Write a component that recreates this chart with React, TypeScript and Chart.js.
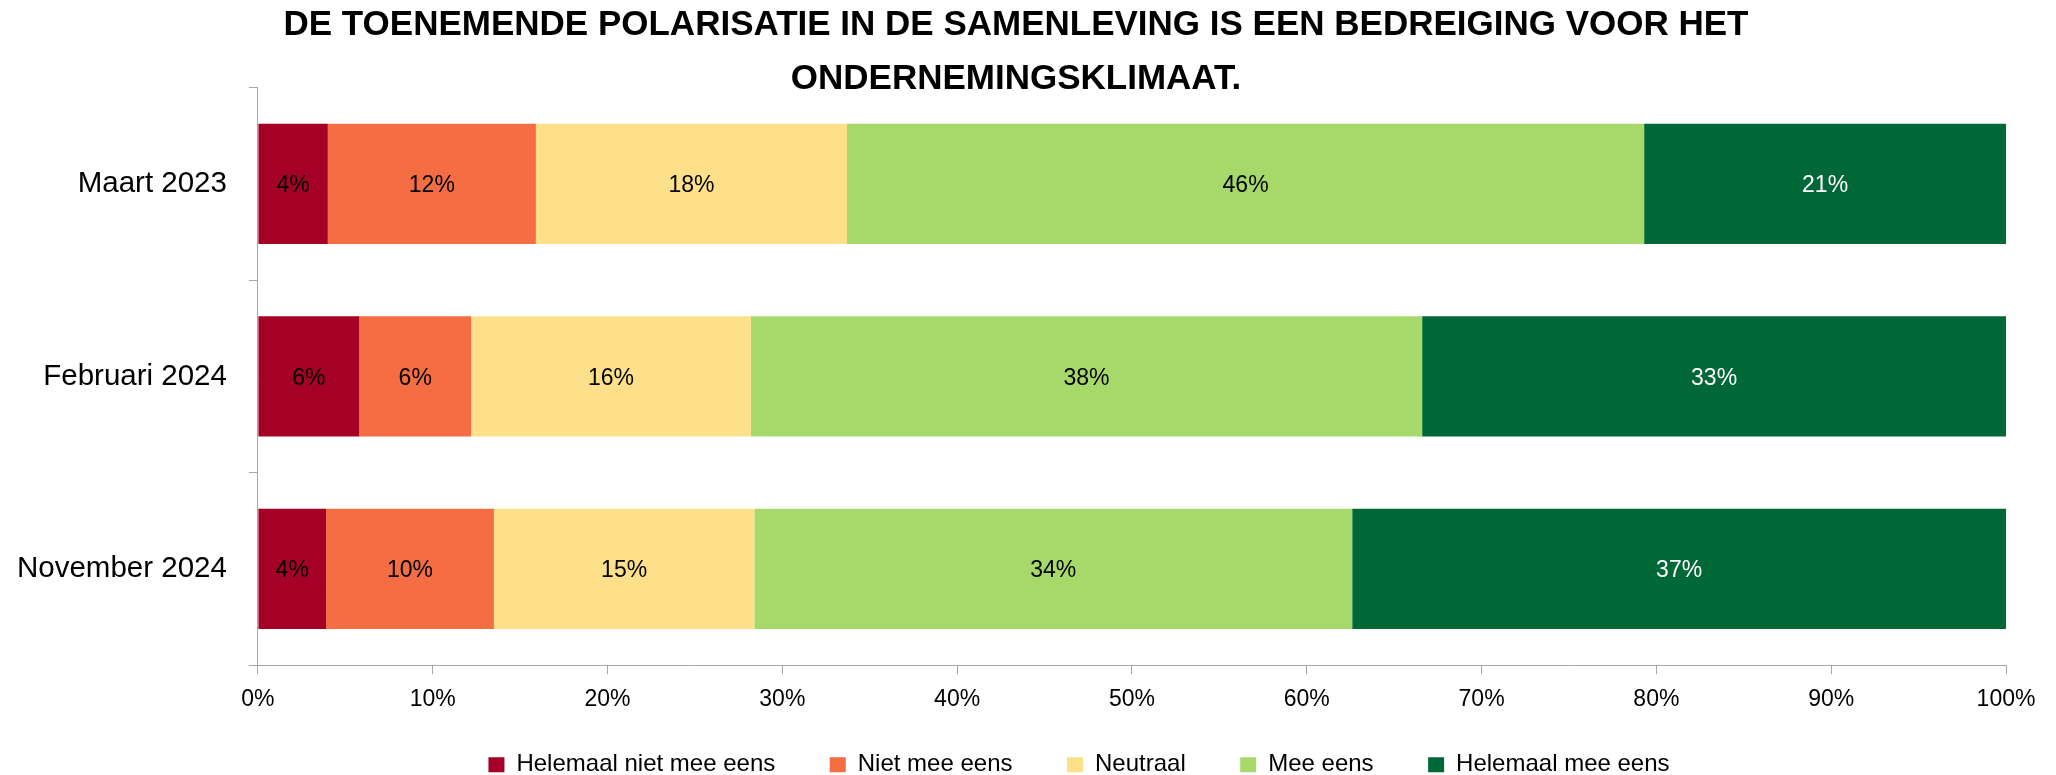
import React, { useEffect, useRef } from "react";
import { Chart, registerables } from "chart.js";

Chart.register(...registerables);

const titleLines = [
  "DE TOENEMENDE POLARISATIE IN DE SAMENLEVING IS EEN BEDREIGING VOOR HET",
  "ONDERNEMINGSKLIMAAT.",
];
const categories = ["Maart 2023", "Februari 2024", "November 2024"];
const seriesNames = ["Helemaal niet mee eens", "Niet mee eens", "Neutraal", "Mee eens", "Helemaal mee eens"];
const helemaalNiet = [4.0, 5.8, 3.9];
const nietMee = [11.9, 6.4, 9.6];
const neutraal = [17.8, 16.0, 14.9];
const meeEens = [45.6, 38.4, 34.2];
const helemaalMee = [20.7, 33.4, 37.4];
const colors = ["#A50026", "#F46D43", "#FEE08B", "#A6D96A", "#006837"];
const labelColors = ["#000000", "#000000", "#000000", "#000000", "#FFFFFF"];
const xTicks = [0, 10, 20, 30, 40, 50, 60, 70, 80, 90, 100];

const FONT = "'Liberation Sans', Arial, sans-serif";
const AXIS = "#A6A6A6";

const valueLabels = {
  id: "valueLabels",
  afterDatasetsDraw(chart: any) {
    const ctx = chart.ctx;
    ctx.save();
    ctx.font = `23px ${FONT}`;
    ctx.textAlign = "center";
    ctx.textBaseline = "middle";
    chart.data.datasets.forEach((ds: any, di: number) => {
      const meta = chart.getDatasetMeta(di);
      meta.data.forEach((bar: any, i: number) => {
        const v = ds.data[i];
        const p = bar.getProps(["x", "y", "base"], true);
        ctx.fillStyle = labelColors[di];
        ctx.fillText(Math.round(v) + "%", (p.x + p.base) / 2, p.y + 2);
      });
    });
    ctx.restore();
  },
};

const shiftBlocks = {
  id: "shiftBlocks",
  afterLayout(chart: any) {
    const l = chart.legend;
    if (l) {
      l.left += 78.5;
      l.right += 78.5;
      l.top -= 27.6;
      l.bottom -= 27.6;
    }
    const t = chart.titleBlock;
    if (t) {
      t.left += 15.5;
      t.right += 15.5;
    }
  },
};

export default function App() {
  const ref = useRef<HTMLCanvasElement | null>(null);
  useEffect(() => {
    if (!ref.current) return;
    const seriesData = [helemaalNiet, nietMee, neutraal, meeEens, helemaalMee];
    const chart = new Chart(ref.current, {
      type: "bar",
      data: {
        labels: categories,
        datasets: seriesNames.map((name, i) => ({
          label: name,
          data: seriesData[i],
          backgroundColor: colors[i],
          borderWidth: 0,
          barPercentage: 0.625,
          categoryPercentage: 1,
        })),
      },
      options: {
        indexAxis: "y",
        responsive: false,
        animation: false,
        layout: { padding: { left: -5, right: 50, top: 0, bottom: -39.3 } },
        scales: {
          x: {
            stacked: true,
            min: 0,
            max: 100,
            afterBuildTicks: (scale: any) => {
              scale.ticks = xTicks.map((v) => ({ value: v }));
            },
            ticks: {
              callback: (v: any) => v + "%",
              font: { family: FONT, size: 23 },
              color: "#000000",
              padding: 12,
              maxRotation: 0,
            },
            grid: { drawOnChartArea: false, drawTicks: true, tickLength: 9, color: AXIS, lineWidth: 1 },
            border: { display: true, color: AXIS, width: 1 },
          },
          y: {
            stacked: true,
            ticks: {
              font: { family: FONT, size: 29.5 },
              color: "#000000",
              padding: 22,
            },
            grid: { drawOnChartArea: false, drawTicks: true, tickLength: 9, color: AXIS, lineWidth: 1, offset: true },
            border: { display: true, color: AXIS, width: 1 },
          },
        },
        plugins: {
          title: {
            display: true,
            text: titleLines,
            color: "#000000",
            font: { family: FONT, size: 35, weight: "bold", lineHeight: 1.523 },
            padding: { top: -1, bottom: -18 },
          },
          legend: {
            display: true,
            position: "bottom",
            labels: {
              boxWidth: 16,
              boxHeight: 15,
              padding: 54.5,
              color: "#000000",
              font: { family: FONT, size: 24 },
            },
          },
          tooltip: { enabled: false },
        },
      },
      plugins: [valueLabels, shiftBlocks],
    } as any);
    return () => chart.destroy();
  }, []);
  return (
    <div style={{ position: "absolute", left: 0, top: 0, width: 2056, height: 775, background: "#ffffff" }}>
      <canvas ref={ref} width={2056} height={775} style={{ display: "block" }} />
    </div>
  );
}
